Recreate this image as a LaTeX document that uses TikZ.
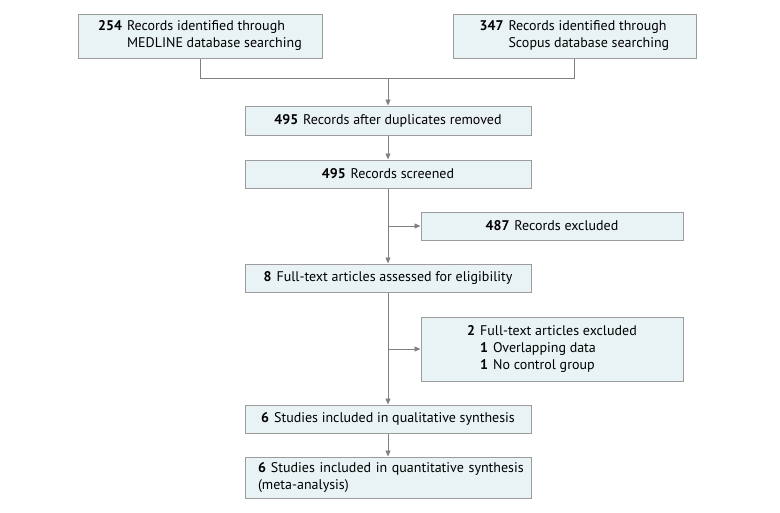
\documentclass[tikz,border=0pt]{standalone}
\usepackage{fontspec}
\setmainfont{PT Sans}
\usetikzlibrary{arrows.meta}
\definecolor{boxfill}{HTML}{E9F2F4}
\definecolor{boxline}{HTML}{9C9C9C}
\definecolor{flowline}{HTML}{808080}
\newcommand{\nb}[1]{\textbf{#1}}
\tikzset{
  stagebox/.style={draw=boxline, fill=boxfill, line width=1pt, inner sep=0pt,
    font=\fontsize{14}{17}\selectfont, align=center},
  flow/.style={draw=flowline, line width=0.9pt},
  flowarr/.style={flow, -{Triangle[length=6pt,width=5pt]}}
}
\begin{document}
\begin{tikzpicture}[x=1pt, y=-1pt]
  \useasboundingbox (0,0) rectangle (780,512);
  % identification
  \node[stagebox, minimum width=244pt, minimum height=44pt] (medline) at (200,36)
    {\begin{tabular}{@{}l@{\hspace{5pt}}l@{}}\nb{254} & Records identified through\\ & MEDLINE database searching\end{tabular}};
  \node[stagebox, minimum width=243pt, minimum height=44pt] (scopus) at (574.5,36)
    {\begin{tabular}{@{}l@{\hspace{5pt}}l@{}}\nb{347} & Records identified through\\ & Scopus database searching\end{tabular}};
  \coordinate (join) at (388,78);
  % screening
  \node[stagebox, minimum width=286pt, minimum height=29pt] (dedup) at (388,120.5)
    {\nb{495}\hspace{5pt}Records after duplicates removed};
  \node[stagebox, minimum width=286pt, minimum height=28pt] (screened) at (388,174)
    {\nb{495}\hspace{5pt}Records screened};
  \node[stagebox, minimum width=262pt, minimum height=28pt] (excl1) at (552,226)
    {\nb{487}\hspace{5pt}Records excluded};
  % eligibility
  \node[stagebox, minimum width=286pt, minimum height=28pt] (fulltext) at (388,278)
    {\nb{8}\hspace{5pt}Full-text articles assessed for eligibility};
  \node[stagebox, minimum width=262pt, minimum height=64pt] (excl2) at (552,349)
    {\begin{tabular}{@{}l@{\hspace{5pt}}l@{}}\nb{2} & Full-text articles excluded\\
      & \nb{1}\hspace{5pt}Overlapping data\\ & \nb{1}\hspace{5pt}No control group\end{tabular}};
  % included
  \node[stagebox, minimum width=286pt, minimum height=41pt, text width=260pt, align=left] (quanti) at (388,477.5)
    {\mbox{\nb{6}\hspace{5pt}Studies included in quantitative synthesis}\\(meta-analysis)};
  \node[stagebox, minimum width=286pt, minimum height=28pt] (quali) at (388,419)
    {\nb{6}\hspace{5pt}Studies included in qualitative synthesis};
  % connectors
  \draw[flow] (medline.south) |- (join);
  \draw[flow] (scopus.south) |- (join);
  \draw[flowarr] (join) -- (dedup.north);
  \draw[flowarr] (dedup) -- (screened);
  \draw[flowarr] (screened) -- (fulltext);
  \draw[flowarr] (screened.south |- excl1.west) -- (excl1.west);
  \draw[flowarr] (fulltext) -- (quali);
  \draw[flowarr] (fulltext.south |- excl2.west) -- (excl2.west);
  \draw[flowarr] (quali) -- (quanti);
\end{tikzpicture}
\end{document}
